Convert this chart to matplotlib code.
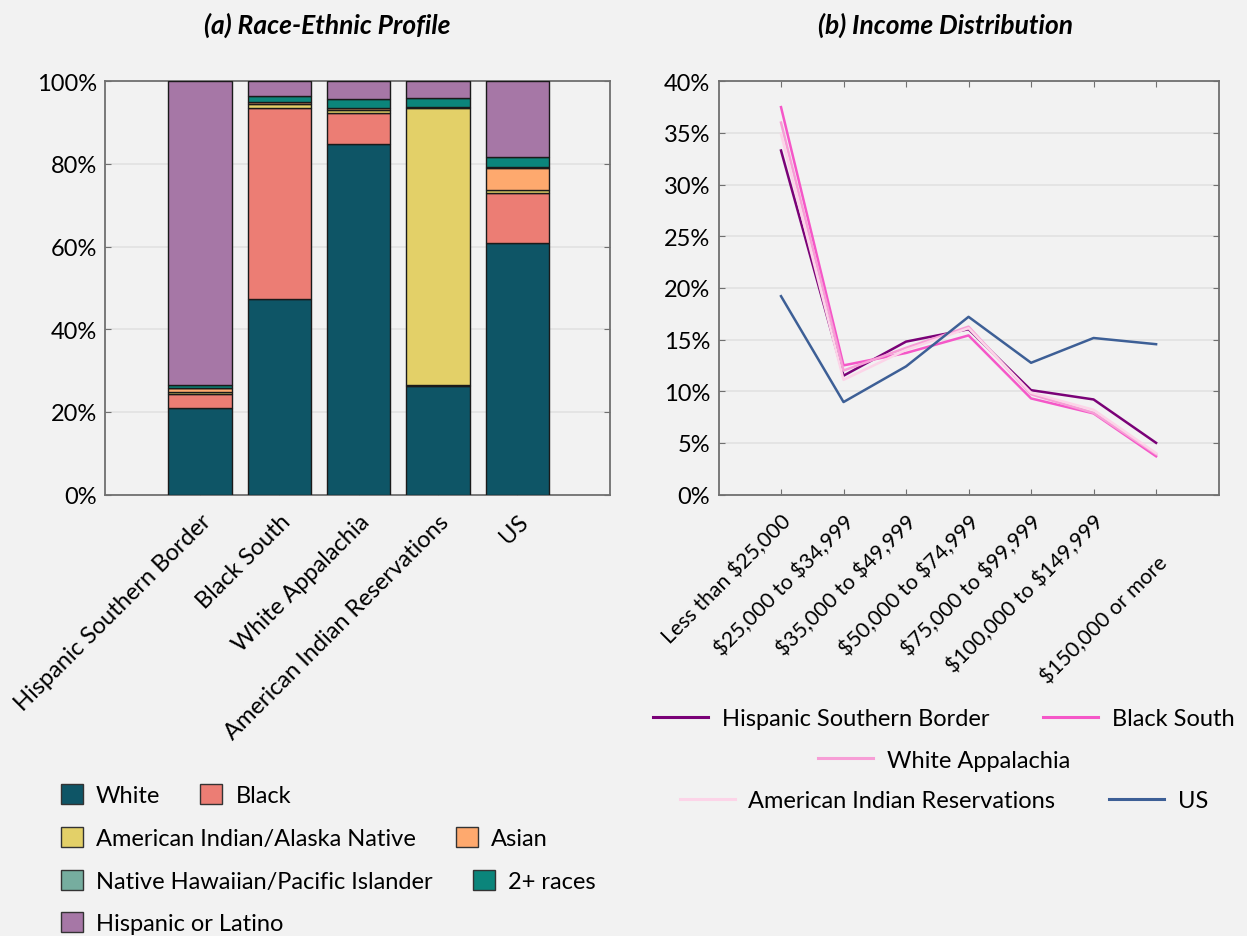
import matplotlib
matplotlib.use("Agg")
import matplotlib.pyplot as plt
import numpy as np
from matplotlib.patches import Patch
from matplotlib.lines import Line2D
from matplotlib.ticker import FuncFormatter
from matplotlib.transforms import ScaledTranslation

plt.rcParams['font.family'] = ['Lato', 'DejaVu Sans']

# ---------------- data ----------------
regions = ['Hispanic Southern Border', 'Black South', 'White Appalachia',
           'American Indian Reservations', 'US']
race_labels = ['White', 'Black', 'American Indian/Alaska Native', 'Asian',
               'Native Hawaiian/Pacific Islander', '2+ races', 'Hispanic or Latino']
white = [21.0, 47.3, 84.8, 26.2, 60.8]
black = [3.4, 46.3, 7.5, 0.3, 12.1]
aian = [0.4, 1.0, 0.8, 67.0, 0.9]
asian = [0.9, 0.3, 0.4, 0.3, 5.3]
nhpi = [0.1, 0.1, 0.1, 0.1, 0.2]
two_plus = [0.8, 1.4, 2.0, 2.0, 2.5]
hispanic = [73.4, 3.6, 4.4, 4.1, 18.2]
race_colors = ['#0e5566', '#ec7d74', '#e3d068', '#fea96e', '#76ad9f', '#0b857b', '#a677a6']

income_bins = ['Less than $25,000', '$25,000 to $34,999', '$35,000 to $49,999',
               '$50,000 to $74,999', '$75,000 to $99,999', '$100,000 to $149,999',
               '$150,000 or more']
inc_hsb = [33.3, 11.5, 14.8, 16.0, 10.1, 9.2, 5.0]
inc_bs = [37.5, 12.5, 13.7, 15.4, 9.3, 7.85, 3.7]
inc_wa = [36.0, 12.0, 14.2, 16.25, 9.7, 7.9, 3.9]
inc_air = [34.9, 11.1, 14.0, 16.1, 9.85, 8.2, 4.0]
inc_us = [19.2, 8.95, 12.4, 17.2, 12.75, 15.15, 14.55]
line_names = ['Hispanic Southern Border', 'Black South', 'White Appalachia',
              'American Indian Reservations', 'US']
line_colors = ['#7a0177', '#f557c8', '#f79ed6', '#fcd4e8', '#3d5f96']

BG = '#f2f2f2'
SPINE = '#707070'
GRID = '#e2e2e2'
FS = 17

fig = plt.figure(figsize=(12.47, 9.37), dpi=100, facecolor=BG)

ax1 = fig.add_axes([105/1247, 1-495.5/937, 505/1247, 413.2/937])
ax2 = fig.add_axes([718.5/1247, 1-495.5/937, 500.1/1247, 413.2/937])

for ax in (ax1, ax2):
    ax.set_facecolor(BG)
    for s in ax.spines.values():
        s.set_color(SPINE)
        s.set_linewidth(1.3)
    ax.yaxis.grid(True, color=GRID, lw=1.2, zorder=0)
    ax.set_axisbelow(True)
    ax.tick_params(direction='in', top=True, right=True, length=4,
                   color=SPINE, labelsize=FS, pad=6)
    ax.tick_params(axis='x', pad=11.5)

# ---------------- stacked bars ----------------
x = np.arange(len(regions))
series = [white, black, aian, asian, nhpi, two_plus, hispanic]
bottom = np.zeros(len(regions))
for vals, col, lab in zip(series, race_colors, race_labels):
    ax1.bar(x, vals, bottom=bottom, width=0.8, color=col, edgecolor='#1a1a1a',
            linewidth=1.0, label=lab, zorder=3)
    bottom += np.array(vals)
ax1.set_xlim(-1.2, 5.17)
ax1.set_ylim(0, 100)
ax1.set_yticks([0, 20, 40, 60, 80, 100])
ax1.yaxis.set_major_formatter(FuncFormatter(lambda v, p: f'{v:.0f}%'))
ax1.set_xticks(x)
ax1.set_xticklabels(regions, rotation=45, ha='right', rotation_mode='anchor')

# ---------------- lines ----------------
xi = np.arange(len(income_bins))
for vals, col, name in zip([inc_hsb, inc_bs, inc_wa, inc_air, inc_us], line_colors, line_names):
    ax2.plot(xi, vals, color=col, lw=1.8, label=name, zorder=3)
ax2.set_xlim(-1, 7)
ax2.set_ylim(0, 40)
ax2.set_yticks(np.arange(0, 41, 5))
ax2.yaxis.set_major_formatter(FuncFormatter(lambda v, p: f'{v:.0f}%'))
ax2.set_xticks(xi)
labs = ax2.set_xticklabels([s.replace('$', r'\$') for s in income_bins],
                           rotation=45, ha='right', rotation_mode='anchor',
                           fontsize=15.3)
# last label sits lower in the reference
labs[-1].set_transform(labs[-1].get_transform() +
                       ScaledTranslation(1/100, -41/100, fig.dpi_scale_trans))

# ---------------- titles ----------------
fig.text(327/1247, 1-25/937, '(a) Race-Ethnic Profile', ha='center', va='center',
         fontsize=19, fontweight='bold', fontstyle='italic')
fig.text(945/1247, 1-25/937, '(b) Income Distribution', ha='center', va='center',
         fontsize=19, fontweight='bold', fontstyle='italic')

# ---------------- left legend (flow rows) ----------------
def patch(i):
    return Patch(facecolor=race_colors[i], edgecolor='#333333', linewidth=1.0)

rows_left = [[0, 1], [2, 3], [4, 5], [6]]
ys_left = [796, 839, 882, 924]
for row, yy in zip(rows_left, ys_left):
    fig.legend([patch(i) for i in row], [race_labels[i] for i in row],
               loc='center left', bbox_to_anchor=(61/1247, 1-yy/937),
               ncol=len(row), frameon=False, fontsize=FS, borderpad=0,
               borderaxespad=0, handlelength=0.93, handleheight=0.93,
               handletextpad=0.55, columnspacing=1.7)

# ---------------- right legend (centered rows) ----------------
def lh(i):
    return Line2D([], [], color=line_colors[i], lw=2.2)

rows_right = [[0, 1], [2], [3, 4]]
ys_right = [720, 761, 802]
for row, yy in zip(rows_right, ys_right):
    fig.legend([lh(i) for i in row], [line_names[i] for i in row],
               loc='center', bbox_to_anchor=(944/1247, 1-yy/937),
               ncol=len(row), frameon=False, fontsize=FS, borderpad=0,
               borderaxespad=0, handlelength=2.33, handletextpad=0.57,
               columnspacing=2.29)

fig.savefig('out.png', dpi=100, facecolor=BG)
